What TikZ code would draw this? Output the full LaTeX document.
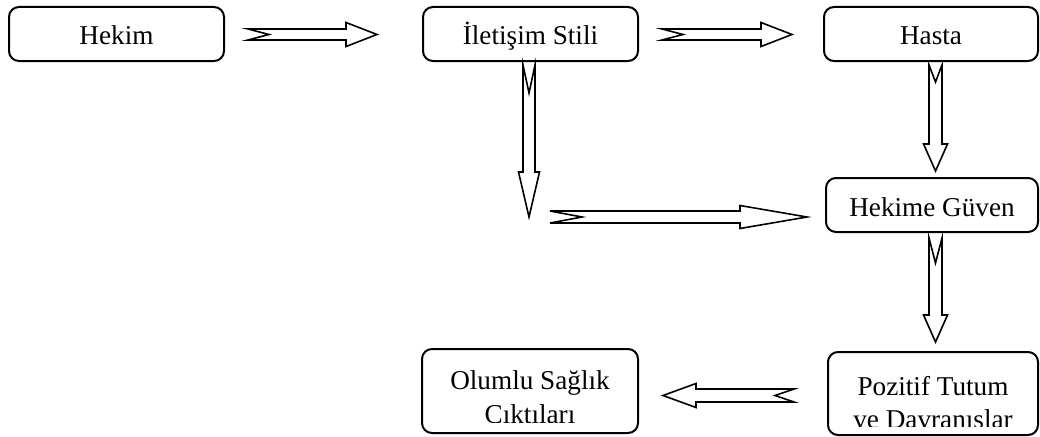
\documentclass[tikz,border=0pt]{standalone}
\usepackage{fontspec}
\setmainfont{Liberation Serif}
\usetikzlibrary{calc}

\tikzset{
  stage/.style={draw, line width=2pt, rounded corners=10pt, inner sep=0pt, fill=white},
  oneline/.style={font=\fontsize{27.2}{34}\selectfont, text height=24pt, text depth=2pt},
  lineof/.style={font=\fontsize{27.2}{34}\selectfont, inner sep=0pt, anchor=base},
  blockarrow/.style={draw=black, fill=white, line width=1.6pt, line join=miter}
}

% Notched block arrow from tail #1 to tip #2:
% #3 shaft half width, #4 head half width, #5 head length, #6 notch depth
\newcommand\notcharrow[6]{%
  \draw[blockarrow] let \p1=(#1), \p2=(#2),
    \n1={veclen(\x2-\x1,\y2-\y1)},
    \n2={(\x2-\x1)/\n1}, \n3={(\y2-\y1)/\n1}
  in ({\x1-(#3)*\n3},{\y1+(#3)*\n2})
  -- ({\x1+(\n1-#5)*\n2-(#3)*\n3},{\y1+(\n1-#5)*\n3+(#3)*\n2})
  -- ({\x1+(\n1-#5)*\n2-(#4)*\n3},{\y1+(\n1-#5)*\n3+(#4)*\n2})
  -- ({\x1+\n1*\n2},{\y1+\n1*\n3})
  -- ({\x1+(\n1-#5)*\n2+(#4)*\n3},{\y1+(\n1-#5)*\n3-(#4)*\n2})
  -- ({\x1+(\n1-#5)*\n2+(#3)*\n3},{\y1+(\n1-#5)*\n3-(#3)*\n2})
  -- ({\x1+(#3)*\n3},{\y1-(#3)*\n2})
  -- ({\x1+(#6)*\n2},{\y1+(#6)*\n3})
  -- cycle;
}

\begin{document}
\begin{tikzpicture}[x=1pt, y=-1pt]
\useasboundingbox (0,0) rectangle (1040,436);

% stages
\node[stage, oneline, minimum width=215pt, minimum height=54pt] (hekim) at (116.5,34) {Hekim};
\node[stage, oneline, minimum width=215pt, minimum height=54pt] (iletisim) at (530.5,34) {İletişim Stili};
\node[stage, oneline, minimum width=214pt, minimum height=54pt] (hasta) at (931,34) {Hasta};
\node[stage, oneline, minimum width=212pt, minimum height=54pt] (guven) at (932,205) {Hekime Güven};
\node[stage, minimum width=210pt, minimum height=83pt] (pozitif) at (933,393.5) {};
\node[stage, minimum width=216pt, minimum height=84pt] (olumlu) at (530,391) {};

% two-line labels, cut off at the lower text margin
\begin{scope}
  \clip ($(olumlu.north west)+(2,2)$) rectangle ($(olumlu.south east)+(-2,-12)$);
  \node[lineof] (olumlu1) at ($(olumlu.center)+(0,-2)$) {Olumlu Sağlık};
  \node[lineof] (olumlu2) at ($(olumlu.center)+(0,32.5)$) {Çıktıları};
\end{scope}
\begin{scope}
  \clip ($(pozitif.north west)+(2,2)$) rectangle ($(pozitif.south east)+(-2,-10)$);
  \node[lineof] (pozitif1) at ($(pozitif.center)+(0,2)$) {Pozitif Tutum};
  \node[lineof] (pozitif2) at ($(pozitif.center)+(0,35)$) {ve Davranışlar};
\end{scope}

% arrow end points
\coordinate (a1s) at ($(hekim.east)+(23,0.5)$);
\coordinate (a1e) at ($(a1s -| iletisim.west)+(-45,0)$);
\coordinate (a2s) at ($(iletisim.east)+(23,0.5)$);
\coordinate (a2e) at ($(a2s -| hasta.west)+(-31,0)$);
\coordinate (a3s) at ($(iletisim.south)+(-1.5,3)$);
\coordinate (a3e) at ($(a3s)+(0,152)$);
\coordinate (a4s) at ($(a3e)+(21,0)$);
\coordinate (a4e) at ($(a4s -| guven.west)+(-18,0)$);
\coordinate (a5s) at ($(hasta.south)+(4.5,3)$);
\coordinate (a5e) at ($(a5s |- guven.north)+(0,-6)$);
\coordinate (a6s) at ($(guven.south)+(3.5,5)$);
\coordinate (a6e) at ($(a6s |- pozitif.north)+(0,-9)$);
\coordinate (a7s) at ($(pozitif.west)+(-33,2)$);
\coordinate (a7e) at ($(a7s -| olumlu.east)+(24,0)$);

% connectors
\notcharrow{a1s}{a1e}{5.5}{12}{31}{21}
\notcharrow{a2s}{a2e}{5.5}{12}{31}{21}
\notcharrow{a3s}{a3e}{6}{10.5}{45}{28}
\notcharrow{a4s}{a4e}{6}{11.5}{67}{32}
\notcharrow{a5s}{a5e}{6.5}{12}{27}{17}
\notcharrow{a6s}{a6e}{6.5}{12}{27}{25}
\notcharrow{a7s}{a7e}{6.5}{12}{33}{19}
\end{tikzpicture}
\end{document}
